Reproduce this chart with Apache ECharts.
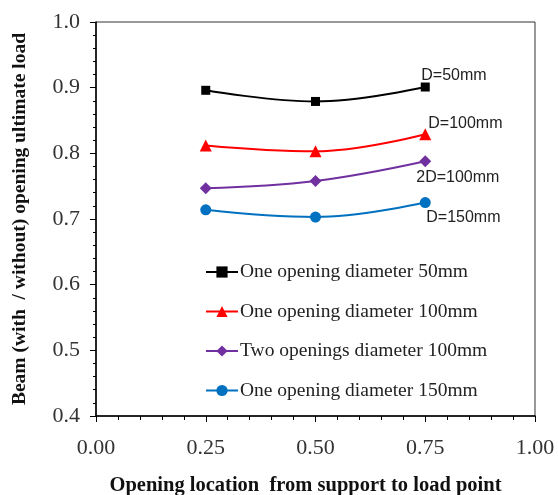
<!DOCTYPE html>
<html><head><meta charset="utf-8">
<script src="https://cdn.jsdelivr.net/npm/echarts@6/dist/echarts.min.js"></script>
<style>html,body{margin:0;padding:0;background:#fff}#c{width:558px;height:495px}</style>
</head><body><div id="c"></div>
<script>
var xPositions = [0.25, 0.5, 0.75];
var seriesNames = ['One opening diameter 50mm','One opening diameter 100mm','Two openings diameter 100mm','One opening diameter 150mm'];
var d50 = [0.896, 0.879, 0.901];
var d100 = [0.812, 0.803, 0.829];
var twoD100 = [0.747, 0.758, 0.788];
var d150 = [0.714, 0.703, 0.725];
var endLabels = ['D=50mm','D=100mm','2D=100mm','D=150mm'];
var xTicks = [0, 0.25, 0.5, 0.75, 1.0];
var yTicks = [0.4, 0.5, 0.6, 0.7, 0.8, 0.9, 1.0];

var colors = ['#000000','#ff0000','#7030a0','#0070c0'];
var symbols = ['rect','triangle','diamond','circle'];
var sizes = [9, 12, 12, 11];
var labelOffsets = [[-4,-11],[3,-11],[-9,16],[1,15]];
var allData = [d50, d100, twoD100, d150];

var series = allData.map(function(vals, i){
  return {
    name: seriesNames[i], type: 'line', smooth: 0.4,
    data: vals.map(function(v, j){ return [xPositions[j], v]; }),
    symbol: symbols[i], symbolSize: sizes[i],
    itemStyle: {color: colors[i]},
    lineStyle: {color: colors[i], width: 2},
    label: {
      show: true, position: 'inside', align: 'left', verticalAlign: 'middle',
      offset: labelOffsets[i], fontFamily: 'Liberation Sans', fontSize: 16, color: '#222',
      formatter: function(p){ return p.dataIndex === vals.length - 1 ? endLabels[i] : ''; }
    },
    emphasis: {disabled: true}
  };
});

var chart = echarts.init(document.getElementById('c'));
chart.setOption({
  animation: false,
  grid: {left: 96, right: 23, top: 22, bottom: 79, show: true, borderColor: '#333', borderWidth: 1,
         outerBoundsMode: 'none', containLabel: false},
  legend: {
    orient: 'vertical', left: 200, top: 257, itemGap: 19.5, itemWidth: 32, itemHeight: 14,
    data: seriesNames,
    textStyle: {fontFamily: 'Liberation Serif', fontSize: 19.5, color: '#222', padding: [0,0,0,-3]}
  },
  xAxis: {
    type: 'value', min: xTicks[0], max: xTicks[xTicks.length-1], interval: 0.25,
    name: 'Opening location  from support to load point', nameLocation: 'middle', nameGap: 59,
    nameTextStyle: {fontFamily: 'Liberation Serif', fontWeight: 'bold', fontSize: 20.5, color: '#111', padding: [0,20,0,0]},
    axisLine: {lineStyle: {color: '#000', width: 1.5}},
    axisTick: {show: true, length: 6, inside: false, lineStyle: {color: '#000'}},
    minorTick: {show: true, splitNumber: 5, length: 4, lineStyle: {color: '#000'}},
    splitLine: {show: false},
    axisLabel: {fontFamily: 'Liberation Serif', fontSize: 22, color: '#333', margin: 21,
      formatter: function(v){ return v.toFixed(2); }}
  },
  yAxis: {
    type: 'value', min: yTicks[0], max: yTicks[yTicks.length-1], interval: 0.1,
    name: 'Beam (with  / without) opening ultimate load', nameLocation: 'middle', nameGap: 66,
    nameTextStyle: {fontFamily: 'Liberation Serif', fontWeight: 'bold', fontSize: 19.5, color: '#111'},
    axisLine: {show: true, lineStyle: {color: '#000', width: 1.5}},
    axisTick: {show: true, length: 6, inside: false, lineStyle: {color: '#000'}},
    minorTick: {show: true, splitNumber: 5, length: 3, lineStyle: {color: '#000'}},
    splitLine: {show: false},
    axisLabel: {fontFamily: 'Liberation Serif', fontSize: 22, color: '#333', margin: 16,
      formatter: function(v){ return v.toFixed(1); }}
  },
  series: series
});
</script></body></html>
